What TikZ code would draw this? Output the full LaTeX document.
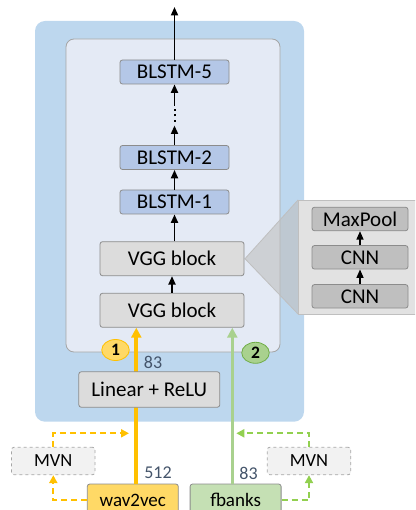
\documentclass[tikz,border=0pt]{standalone}
\usepackage{fontspec}
\setmainfont{Carlito}
\usetikzlibrary{arrows.meta,shapes.geometric}
\definecolor{outerblue}{HTML}{BDD7EE}
\definecolor{innerfill}{HTML}{E4EAF5}
\definecolor{innerborder}{HTML}{A6A6A6}
\definecolor{blstmfill}{HTML}{B4C7E7}
\definecolor{boxborder}{HTML}{8C8C8C}
\definecolor{vggfill}{HTML}{DCDCDC}
\definecolor{panelfill}{HTML}{E2E2E2}
\definecolor{panelborder}{HTML}{BFBFBF}
\definecolor{cnnfill}{HTML}{BFBFBF}
\definecolor{orangeline}{HTML}{FFC000}
\definecolor{orangefill}{HTML}{FFD966}
\definecolor{greenline}{HTML}{A9D18E}
\definecolor{greenfill}{HTML}{C5E0B4}
\definecolor{greendash}{HTML}{92D050}
\definecolor{greenborder}{HTML}{70AD47}
\definecolor{numcol}{HTML}{44546A}
\definecolor{mvnfill}{HTML}{F2F2F2}
\definecolor{mvnborder}{HTML}{A6A6A6}
\begin{document}
\begin{tikzpicture}[x=1pt,y=-1pt,
  box/.style={draw=boxborder, line width=0.8pt, rounded corners=2.5pt, inner sep=0pt,
    font=\fontsize{21}{24}\selectfont, text=black},
  blstm/.style={box, fill=blstmfill, minimum width=109pt, minimum height=24pt},
  vgg/.style={box, fill=vggfill, minimum width=144pt, minimum height=34pt},
  cnn/.style={box, fill=cnnfill, minimum width=96pt, minimum height=23.5pt},
  lin/.style={box, fill=vggfill, minimum width=141pt, minimum height=35.5pt},
  src/.style={box, font=\fontsize{19}{22}\selectfont, minimum width=91pt, minimum height=32pt},
  mvn/.style={draw=mvnborder, dashed, line width=0.8pt, fill=mvnfill, rounded corners=2.5pt,
    minimum width=83.5pt, minimum height=27.5pt, font=\fontsize{18.5}{22}\selectfont, inner sep=0pt},
  arr/.style={-{Triangle[length=8.5pt,width=7pt]}, line width=1.9pt},
  num/.style={text=numcol, font=\fontsize{18}{20}\selectfont, inner sep=0pt},
  badge/.style={ellipse, minimum width=27.5pt, minimum height=21pt, inner sep=0pt, line width=0.8pt,
    font=\fontsize{17.5}{18}\selectfont\bfseries},
  odash/.style={draw=orangeline, line width=2pt, dash pattern=on 6pt off 4pt, -{Triangle[length=8pt,width=8pt]}},
  gdash/.style={draw=greendash, line width=2pt, dash pattern=on 6pt off 4pt, -{Triangle[length=8pt,width=8pt]}}
]
\useasboundingbox (0,0) rectangle (415,510);
\clip (0,0) rectangle (415,510);

% outer and inner containers
\fill[outerblue, rounded corners=10pt] (35,21) rectangle (304,421.7);
\draw[fill=innerfill, draw=innerborder, line width=0.8pt, rounded corners=8pt] (66,39) rectangle (280,352);

% zoom panel
\fill[cnnfill, opacity=0.6] (245,258.7) -- (298,200) -- (298,314) -- cycle;
\draw[panelborder, line width=0.8pt] (298,200) -- (245,258.7) -- (298,314);
\draw[fill=panelfill, draw=panelborder, line width=0.8pt] (298,200) rectangle (420,314);

% main stack
\node[blstm] (b5) at (174.5,72) {BLSTM-5};
\node[blstm] (b2) at (174.5,157.5) {BLSTM-2};
\node[blstm] (b1) at (174.5,202) {BLSTM-1};
\node[vgg] (vgg2) at (172,258.7) {VGG block};
\node[vgg] (vgg1) at (172,310.3) {VGG block};

% panel contents
\node[cnn] (mp) at (360,219) {MaxPool};
\node[cnn] (cnn2) at (360,257.3) {CNN};
\node[cnn] (cnn1) at (360,296.3) {CNN};

% input boxes
\node[src, fill=orangefill] (w2v) at (132.8,500) {wav2vec};
\node[src, fill=greenfill] (fb) at (235.6,500) {fbanks};
\node[mvn] (mvnL) at (53.3,461) {MVN};
\node[mvn] (mvnR) at (309,461) {MVN};

% colored input arrows
\coordinate (ox) at (136.3,0);
\coordinate (gx) at (232.3,0);
\draw[orangeline, line width=4pt, -{Triangle[length=10pt,width=10pt]}] (w2v.north -| ox) -- (vgg1.south -| ox);
\draw[greenline, line width=3.5pt, -{Triangle[length=10pt,width=10pt]}] (fb.north -| gx) -- (vgg1.south -| gx);

\node[lin] (lin) at (149.3,389.5) {Linear + ReLU};

% badges and numbers
\node[badge, fill=orangefill, draw=orangeline] (n1) at (115.5,350) {1};
\node[badge, fill=greenline, draw=greenborder] (n2) at (255.5,352.8) {2};
\node[num] (l83a) at (153,362) {83};
\node[num] (l512) at (158,473) {512};
\node[num] (l83b) at (248.5,473) {83};

% black arrows
\coordinate (top) at (174.5,7);
\coordinate (d1) at (174.5,125.5);
\coordinate (d2) at (174.5,106);
\draw[arr] (b5.north) -- (top);
\draw[arr] (b2.north) -- (d1);
\draw[line width=2pt, dash pattern=on 2pt off 3.5pt, shorten <=3.5pt, shorten >=2pt] (d1) -- (d2);
\draw[arr] (d2) -- (b5.south);
\draw[arr] (b1.north) -- (b2.south);
\draw[arr] (vgg2.north -| b1.south) -- (b1.south);
\draw[arr] (vgg1.north) -- (vgg2.south);
\draw[arr, line width=1.5pt] (cnn1.north) -- (cnn2.south);
\draw[arr, line width=1.5pt] (cnn2.north) -- (mp.south);

% MVN dashed connectors
\coordinate (lend) at (129,433.3);
\coordinate (rend) at (236.3,433.3);
\draw[odash] (w2v.west) -| (mvnL.south);
\draw[odash] (mvnL.north) |- (lend);
\draw[gdash] (fb.east) -| (mvnR.south);
\draw[gdash] (mvnR.north) |- (rend);
\end{tikzpicture}
\end{document}
